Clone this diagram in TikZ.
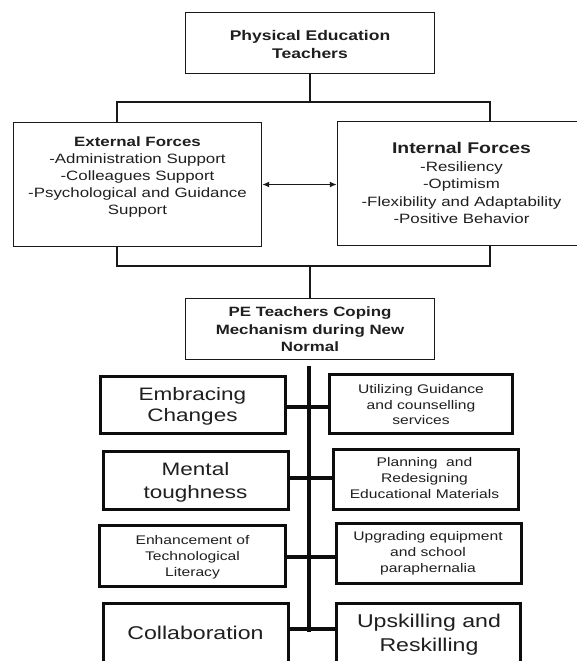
\documentclass[tikz,border=0pt]{standalone}
\usepackage{fontspec}
\setmainfont{Liberation Sans}[FakeStretch=1.25]
\usetikzlibrary{arrows.meta,calc}
\tikzset{
  thinbox/.style={draw=black!90, line width=1.4pt, inner sep=0pt, rectangle},
  thickbox/.style={draw=black!95, line width=3.4pt, inner sep=0pt, rectangle},
  txt/.style={align=center, inner sep=0pt, text=black!88},
  thinline/.style={draw=black!90, line width=1.4pt},
  rowline/.style={draw=black!95, line width=3.3pt},
  spineline/.style={draw=black!95, line width=3.2pt},
  arr/.style={draw=black!90, line width=1.4pt, {Latex[length=7pt,width=6pt]}-{Latex[length=7pt,width=6pt]}}
}
\begin{document}
\begin{tikzpicture}[x=1pt,y=-1pt]
\useasboundingbox (0,0) rectangle (577,661);
\clip (0,0) rectangle (577,661);
\fill[white] (0,0) rectangle (577,661);

% ---------- upper part ----------
\node[thinbox, minimum width=249pt, minimum height=61pt] (top) at (310,43) {};
\node[txt, font=\fontsize{14}{18}\selectfont\bfseries] (topT) at (310,44) {Physical Education\\Teachers};

\node[thinbox, minimum width=248pt, minimum height=124pt] (ext) at (137.5,184.5) {};
\node[txt, font=\fontsize{13.5}{17}\selectfont] (extT) at (137.5,177.5)
  {{\bfseries External Forces}\\-Administration Support\\-Colleagues Support\\-Psychological and Guidance\\Support};

\node[thinbox, minimum width=248pt, minimum height=124pt] (int) at (461.5,183.5) {};
\node[txt, font=\fontsize{13.5}{17.5}\selectfont] (intT) at (461.5,183.4)
  {{\fontsize{15.5}{18}\selectfont\bfseries Internal Forces}\\-Resiliency\\-Optimism\\-Flexibility and Adaptability\\-Positive Behavior};

\node[thinbox, minimum width=249pt, minimum height=61pt] (pe) at (310,329) {};
\node[txt, font=\fontsize{13.5}{17.5}\selectfont\bfseries] (peT) at (310,329.6)
  {PE Teachers Coping\\Mechanism during New\\Normal};

% connectors upper part
\coordinate (j1) at (310,102);
\coordinate (tl) at (117,102);
\coordinate (tr) at (490,102);
\draw[thinline] (top.south) -- (j1);
\draw[thinline] (ext.north -| tl) -- (tl) -- (tr) -- (int.north -| tr);

\coordinate (bl) at (117,266);
\coordinate (br) at (490,266);
\coordinate (j2) at (310,266);
\draw[thinline] (ext.south -| bl) -- (bl) -- (br) -- (int.south -| br);
\draw[thinline] (j2) -- (pe.north);

\draw[arr] (ext.east) -- (ext.east -| int.west);

% ---------- lower part ----------
\node[thickbox, minimum width=185pt, minimum height=57pt] (emb) at (193,405) {};
\node[txt, font=\fontsize{18}{21}\selectfont] (embT) at (192.5,406.8) {Embracing\\Changes};

\node[thickbox, minimum width=185pt, minimum height=58pt] (men) at (196,480.5) {};
\node[txt, font=\fontsize{18}{23}\selectfont] (menT) at (195.5,481.9) {Mental\\toughness};

\node[thickbox, minimum width=186pt, minimum height=61pt] (enh) at (192.5,556) {};
\node[txt, font=\fontsize{12.5}{16}\selectfont] (enhT) at (192.5,556.8) {Enhancement of\\Technological\\Literacy};

\node[thickbox, minimum width=185pt, minimum height=62pt] (col) at (196,634.5) {};
\node[txt, font=\fontsize{18.5}{24}\selectfont] (colT) at (195.5,633.2) {Collaboration};

\node[thickbox, minimum width=183pt, minimum height=59pt] (uti) at (421,404) {};
\node[txt, font=\fontsize{12.5}{15.5}\selectfont] (utiT) at (421,405) {Utilizing Guidance\\and counselling\\services};

\node[thickbox, minimum width=185pt, minimum height=60pt] (pla) at (426,479.5) {};
\node[txt, font=\fontsize{12.5}{16}\selectfont] (plaT) at (424.5,478.5) {Planning~ and\\Redesigning\\Educational Materials};

\node[thickbox, minimum width=185pt, minimum height=60pt] (upg) at (429,553.5) {};
\node[txt, font=\fontsize{12.5}{16}\selectfont] (upgT) at (428,552.8) {Upgrading equipment\\and school\\paraphernalia};

\node[thickbox, minimum width=184pt, minimum height=63pt] (ups) at (428.5,635) {};
\node[txt, font=\fontsize{18.5}{24}\selectfont] (upsT) at (429,635.2) {Upskilling and\\Reskilling};

% spine and rows
\coordinate (sb) at (309,632);
\draw[spineline, shorten <=5.5pt] (pe.south -| sb) -- (sb);
\coordinate (r1) at (309,407);
\coordinate (r2) at (309,478);
\coordinate (r3) at (309,557);
\coordinate (r4) at (309,629);
\draw[rowline] (emb.east |- r1) -- (uti.west |- r1);
\draw[rowline] (men.east |- r2) -- (pla.west |- r2);
\draw[rowline] (enh.east |- r3) -- (upg.west |- r3);
\draw[rowline] (col.east |- r4) -- (ups.west |- r4);
\end{tikzpicture}
\end{document}
